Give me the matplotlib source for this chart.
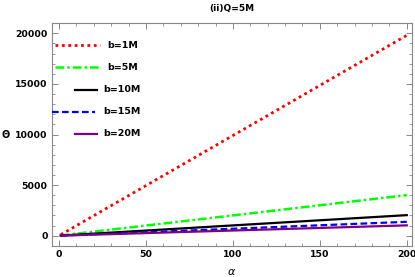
import matplotlib
matplotlib.use("Agg")
import matplotlib.pyplot as plt
from matplotlib.lines import Line2D
from matplotlib.ticker import MultipleLocator

# Data
alpha = [1, 200]
theta_b1 = [100, 19800]
theta_b5 = [20, 4010]
theta_b10 = [10, 2030]
theta_b15 = [7, 1370]
theta_b20 = [5, 1020]
labels = ["b=1M", "b=5M", "b=10M", "b=15M", "b=20M"]
title = "(ii)Q=5M"

fig = plt.figure(figsize=(4.15, 2.77), dpi=100)
ax = fig.add_axes([51.7/415, 1 - 246/277, (412 - 51.7)/415, (246 - 22.7)/277])

styles = [
    dict(color=(1, 0, 0), lw=2.0, linestyle=(0, (1.0, 1.3))),
    dict(color=(0, 1, 0), lw=1.8, linestyle=(0, (3.5, 1.2, 1.0, 1.2))),
    dict(color="black", lw=1.6, linestyle="-"),
    dict(color=(0, 0, 1), lw=1.6, linestyle=(0, (3.0, 1.5))),
    dict(color=(0.5, 0, 0.5), lw=1.6, linestyle="-"),
]
series = [theta_b1, theta_b5, theta_b10, theta_b15, theta_b20]
for s, st in zip(series, styles):
    ax.plot(alpha, s, **st)

ax.set_xlim(-4.2, 203)
ax.set_ylim(-1020, 21050)
ax.xaxis.set_major_locator(MultipleLocator(50))
ax.xaxis.set_minor_locator(MultipleLocator(10))
ax.yaxis.set_major_locator(MultipleLocator(5000))
ax.yaxis.set_minor_locator(MultipleLocator(1000))

grey = "#888888"
for sp in ax.spines.values():
    sp.set_color(grey)
    sp.set_linewidth(0.8)
ax.tick_params(which="both", direction="in", top=True, right=True, color=grey,
               labelsize=6.7, pad=3)
ax.tick_params(which="major", length=4, width=0.7)
ax.tick_params(which="minor", length=2, width=0.6)
for lab in ax.get_xticklabels() + ax.get_yticklabels():
    lab.set_fontweight("bold")
ax.yaxis.set_major_formatter(plt.FuncFormatter(lambda v, p: f"{int(v)}"))

fig.text(232/415, 1 - 9/277, title, ha="center", va="center", fontsize=6.5,
         fontweight="bold")
fig.text(232/415, 1 - 272/277, r"$\alpha$", ha="center", va="center", fontsize=8)
fig.text(6/415, 1 - 135/277, "Θ", ha="center", va="center", fontsize=7, fontweight="bold")

# Manual legend (figure pixel positions as in reference)
leg = [
    (55, 100, 45, 107),
    (55, 98, 67, 107),
    (75, 97, 90, 103),
    (52, 95, 112, 103),
    (75, 97, 134, 103),
]
for (x0, x1, y, tx), lab, st in zip(leg, labels, styles):
    fig.add_artist(Line2D([x0/415, x1/415], [1 - y/277, 1 - y/277], **st))
    fig.text(tx/415, 1 - y/277, lab, ha="left", va="center", fontsize=6.8,
             fontweight="bold")

fig.savefig("out.png", dpi=100)
